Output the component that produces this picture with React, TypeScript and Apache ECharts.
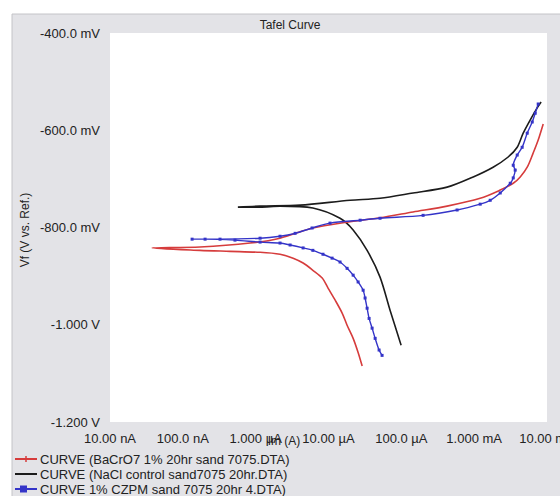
import React, { useEffect, useRef } from "react";
import * as echarts from "echarts";

const titleText = "Tafel Curve";
const xAxisName = "Im (A)";
const yAxisName = "Vf (V vs. Ref.)";
const xTickLabels: Record<string, string> = {
  "-8": "10.00 nA",
  "-7": "100.0 nA",
  "-6": "1.000 µA",
  "-5": "10.00 µA",
  "-4": "100.0 µA",
  "-3": "1.000 mA",
  "-2": "10.00 mA",
};
const yTickLabels: Record<string, string> = {
  "-400": "-400.0 mV",
  "-600": "-600.0 mV",
  "-800": "-800.0 mV",
  "-1000": "-1.000 V",
  "-1200": "-1.200 V",
};
const seriesNames = [
  "CURVE (BaCrO7 1% 20hr sand 7075.DTA)",
  "CURVE (NaCl control sand7075 20hr.DTA)",
  "CURVE 1% CZPM sand 7075 20hr 4.DTA)",
];

// BaCrO7 (red): current (A), potential (mV)
const bacrI = [2.9e-5, 2.55e-5, 2.18e-5, 1.8e-5, 1.54e-5, 1.23e-5, 9.9e-6, 8.2e-6, 6.1e-6, 4.48e-6, 3.27e-6, 2.16e-6, 1.15e-6, 4.44e-7, 1.72e-7, 3.78e-8,
  1.72e-7, 8.4e-7, 2.16e-6, 6.1e-6, 1.8e-5, 5.1e-5, 1.45e-4, 4.25e-4, 1.21e-3, 2.28e-3, 3.44e-3, 4.29e-3, 5.35e-3, 6.45e-3, 7.57e-3, 8.87e-3];
const bacrV = [-1085, -1057, -1028, -1001, -976, -949, -925, -904, -888, -873, -863, -855, -851, -849, -847, -842,
  -840, -832, -822, -801, -789, -780, -768, -756, -740, -723, -709, -696, -676, -647, -620, -587];

// NaCl control (black)
const naclI = [9.93e-5, 7.0e-5, 5.1e-5, 3.39e-5, 2.18e-5, 1.44e-5, 6.1e-6, 2.16e-6, 1.15e-6, 5.7e-7,
  1.15e-6, 4.07e-6, 1.98e-5, 5.1e-5, 1.45e-4, 4.25e-4, 9.7e-4, 1.82e-3, 2.93e-3, 3.9e-3, 4.71e-3, 5.87e-3, 7.33e-3, 8.3e-3];
const naclV = [-1042, -970, -902, -847, -805, -781, -760, -756, -758, -758,
  -756, -754, -744, -740, -729, -717, -696, -676, -655, -635, -606, -579, -554, -542];

// 1% CZPM (blue)
const czpmI = [5.44e-5, 4.95e-5, 4.37e-5, 3.97e-5, 3.61e-5, 3.39e-5, 3.18e-5, 2.99e-5, 2.55e-5, 2.18e-5, 1.8e-5, 1.44e-5, 1.12e-5, 8.4e-6, 6.1e-6, 4.48e-6, 2.97e-6, 2.16e-6, 1.15e-6, 5.2e-7, 2.02e-7, 1.34e-7,
  3.24e-7, 1.15e-6, 2.16e-6, 3.48e-6, 5.96e-6, 1.05e-5, 2.72e-5, 5.1e-5, 1.99e-4, 5.83e-4, 1.21e-3, 1.66e-3, 2.28e-3, 3.13e-3, 3.44e-3, 3.66e-3, 3.44e-3, 3.9e-3, 4.56e-3, 5.35e-3, 6.27e-3, 6.89e-3, 7.57e-3];
const czpmV = [-1063, -1052, -1028, -1007, -987, -966, -945, -929, -912, -898, -884, -871, -863, -855, -847, -842, -836, -832, -830, -826, -824, -824,
  -824, -822, -818, -812, -801, -791, -785, -781, -775, -764, -752, -744, -729, -709, -698, -682, -672, -651, -635, -606, -583, -565, -546];

const FONT = "'Liberation Sans', Arial, sans-serif";
const RED = "#d63c3c";
const BLACK = "#1c1c1c";
const BLUE = "#3434c8";

const pairs = (a: number[], b: number[]) => a.map((v, i) => [v, b[i]]);

export default function App() {
  const ref = useRef<HTMLDivElement>(null);
  useEffect(() => {
    if (!ref.current) return;
    const chart = echarts.init(ref.current, undefined, { renderer: "svg" });
    const legendY = [459, 474, 489];
    const legendColors = [RED, BLACK, BLUE];
    const legendGraphics: any[] = [];
    seriesNames.forEach((name, i) => {
      const y = legendY[i];
      legendGraphics.push({
        type: "line",
        shape: { x1: 15, y1: y, x2: 37, y2: y },
        style: { stroke: legendColors[i], lineWidth: 2 },
      });
      if (i === 0) {
        legendGraphics.push({
          type: "line",
          shape: { x1: 26, y1: y - 3, x2: 26, y2: y + 3 },
          style: { stroke: RED, lineWidth: 1.5 },
        });
      }
      if (i === 2) {
        legendGraphics.push({
          type: "rect",
          shape: { x: 20, y: y - 3.5, width: 7, height: 7 },
          style: { fill: BLUE },
        });
      }
      legendGraphics.push({
        type: "text",
        x: 40,
        y,
        style: {
          text: name,
          font: `13px ${FONT}`,
          fill: "#222",
          verticalAlign: "middle",
        },
      });
    });

    chart.setOption({
      animation: false,
      backgroundColor: "#ffffff",
      graphic: [
        {
          type: "rect",
          z: -10,
          shape: { x: 12, y: 14, width: 560, height: 500 },
          style: { fill: "#e3e3e7", stroke: "#c4c4c8", lineWidth: 1 },
        },
        {
          type: "rect",
          z: -9,
          shape: { x: 110, y: 33, width: 437, height: 389 },
          style: { fill: "#ffffff" },
        },
        {
          type: "text",
          x: 290,
          y: 25,
          style: {
            text: titleText,
            font: `12px ${FONT}`,
            fill: "#222",
            align: "center",
            verticalAlign: "middle",
          },
        },
        {
          type: "text",
          x: 25,
          y: 230,
          rotation: Math.PI / 2,
          style: {
            text: yAxisName,
            font: `12px ${FONT}`,
            fill: "#222",
            align: "center",
            verticalAlign: "middle",
          },
        },
        {
          type: "text",
          x: 284,
          y: 441,
          style: {
            text: xAxisName,
            font: `12px ${FONT}`,
            fill: "#222",
            align: "center",
            verticalAlign: "middle",
          },
        },
        ...legendGraphics,
      ],
      grid: {
        left: 110,
        right: 13,
        top: 33,
        bottom: 74,
        containLabel: false,
        outerBoundsMode: "none",
      },
      xAxis: {
        type: "log",
        logBase: 10,
        min: 1e-8,
        max: 1e-2,
        splitNumber: 6,
        axisLine: { show: false },
        axisTick: { show: false },
        splitLine: { show: false },
        axisLabel: {
          margin: 10,
          color: "#222",
          fontFamily: FONT,
          fontSize: 13,
          showMinLabel: true,
          showMaxLabel: true,
          hideOverlap: false,
          formatter: (v: number) => xTickLabels[String(Math.round(Math.log10(v)))] ?? "",
        },
      },
      yAxis: {
        type: "value",
        min: -1200,
        max: -400,
        interval: 200,
        axisLine: { show: false },
        axisTick: { show: false },
        splitLine: { show: false },
        axisLabel: {
          margin: 10,
          color: "#222",
          fontFamily: FONT,
          fontSize: 13,
          formatter: (v: number) => yTickLabels[String(Math.round(v))] ?? "",
        },
      },
      series: [
        {
          name: seriesNames[0],
          type: "line",
          data: pairs(bacrI, bacrV),
          showSymbol: false,
          symbol: "none",
          smooth: 0.3,
          lineStyle: { color: RED, width: 1.6 },
          itemStyle: { color: RED },
          z: 3,
        },
        {
          name: seriesNames[1],
          type: "line",
          data: pairs(naclI, naclV),
          showSymbol: false,
          symbol: "none",
          smooth: 0.3,
          lineStyle: { color: BLACK, width: 1.6 },
          itemStyle: { color: BLACK },
          z: 2,
        },
        {
          name: seriesNames[2],
          type: "line",
          data: pairs(czpmI, czpmV),
          showSymbol: true,
          symbol: "rect",
          symbolSize: 3,
          smooth: 0.3,
          lineStyle: { color: BLUE, width: 1.4 },
          itemStyle: { color: BLUE },
          z: 4,
        },
      ],
    });
    return () => chart.dispose();
  }, []);
  return (
    <div
      ref={ref}
      style={{ position: "fixed", left: 0, top: 0, width: 560, height: 496 }}
    />
  );
}
